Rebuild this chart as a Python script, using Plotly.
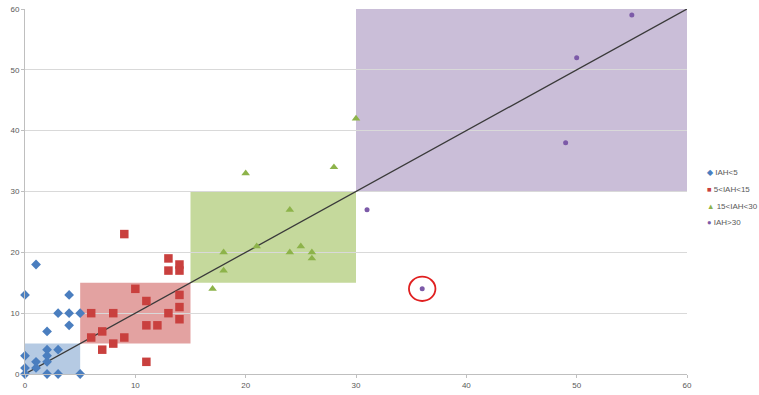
import plotly.graph_objects as go

# Observed vs. reference index, grouped by severity class
blue_x = [0, 4, 3, 4, 5, 4, 2, 2, 3, 0, 2, 1, 2, 0, 1, 0, 2, 3, 5, 1]
blue_y = [13, 13, 10, 10, 10, 8, 7, 4, 4, 3, 3, 2, 2, 1, 1, 0, 0, 0, 0, 18]

red_x = [9, 13, 13, 14, 14, 10, 11, 14, 14, 14, 13, 6, 8, 11, 12, 7, 6, 9, 8, 7, 11]
red_y = [23, 19, 17, 18, 17, 14, 12, 13, 11, 9, 10, 10, 10, 8, 8, 7, 6, 6, 5, 4, 2]

green_x = [20, 28, 24, 18, 21, 24, 25, 26, 26, 18, 17, 30]
green_y = [33, 34, 27, 20, 21, 20, 21, 20, 19, 17, 14, 42]

purple_x = [55, 50, 49, 31, 36]
purple_y = [59, 52, 38, 27, 14]

series_names = ["IAH<5", "5<IAH<15", "15<IAH<30", "IAH>30"]
colors = ["#4a7ebf", "#c9403e", "#8db34a", "#7c5aa8"]
symbols = ["diamond", "square", "triangle-up", "circle"]
sizes = [7.5, 8.5, 7.5, 5]
legend_glyphs = ["\u25C6", "\u25A0", "\u25B2", "\u25CF"]

# Class bands along the diagonal
bands = [(0, 5), (5, 15), (15, 30), (30, 60)]
band_fills = ["rgba(79,129,189,0.42)", "rgba(200,70,68,0.50)",
              "rgba(150,185,75,0.55)", "rgba(128,100,162,0.42)"]

x_ticks = [0, 10, 20, 30, 40, 50, 60]
y_ticks = [0, 10, 20, 30, 40, 50, 60]

outlier = (36, 14)

fig = go.Figure()

for (lo, hi), fill in zip(bands, band_fills):
    fig.add_shape(type="rect", xref="x", yref="y", x0=lo, x1=hi, y0=lo, y1=hi,
                  fillcolor=fill, line_width=0, layer="below")

# Identity line
fig.add_trace(go.Scatter(x=[x_ticks[0], x_ticks[-1]], y=[y_ticks[0], y_ticks[-1]],
                         mode="lines", line=dict(color="#3a3a3a", width=1.3),
                         showlegend=False, hoverinfo="skip"))

for xs, ys, name, c, s, sz in zip([blue_x, red_x, green_x, purple_x],
                                  [blue_y, red_y, green_y, purple_y],
                                  series_names, colors, symbols, sizes):
    fig.add_trace(go.Scatter(x=xs, y=ys, mode="markers", name=name, cliponaxis=False,
                             showlegend=False,
                             marker=dict(color=c, symbol=s, size=sz, line_width=0)))

# Compact key to the right of the plot
key_font = "Liberation Sans Narrow, Liberation Sans"
for i, (name, c, g) in enumerate(zip(series_names, colors, legend_glyphs)):
    label = name.replace("<", "&lt;").replace(">", "&gt;")
    fig.add_annotation(
        xref="paper", yref="paper", x=1.0275, y=0.551 - i * 0.0455,
        xanchor="left", yanchor="middle", showarrow=False,
        text=f'<span style="color:{c};font-size:7.5px">{g}</span> {label}',
        font=dict(family=key_font, size=8, color="#595959"))

# Highlight ring around the outlier
ox, oy = outlier
fig.add_shape(type="circle", xref="x", yref="y", x0=ox - 1.2, x1=ox + 1.2,
              y0=oy - 2.0, y1=oy + 2.0, line=dict(color="#e02020", width=1.8))

axis_common = dict(showline=True, linecolor="#bfbfbf", linewidth=1,
                   ticks="outside", ticklen=3, tickcolor="#bfbfbf",
                   tickfont=dict(family=key_font, size=8, color="#595959"),
                   zeroline=False, automargin=False)

fig.update_xaxes(range=[0, 60], tickvals=x_ticks, showgrid=False, **axis_common)
fig.update_yaxes(range=[0, 60], tickvals=y_ticks, showgrid=True, gridcolor="#d9d9d9",
                 gridwidth=1, **axis_common)

fig.update_layout(
    width=759, height=395,
    margin=dict(l=25, r=72, t=9, b=21),
    plot_bgcolor="white", paper_bgcolor="white",
    showlegend=False,
)

fig.write_html("out.html")
